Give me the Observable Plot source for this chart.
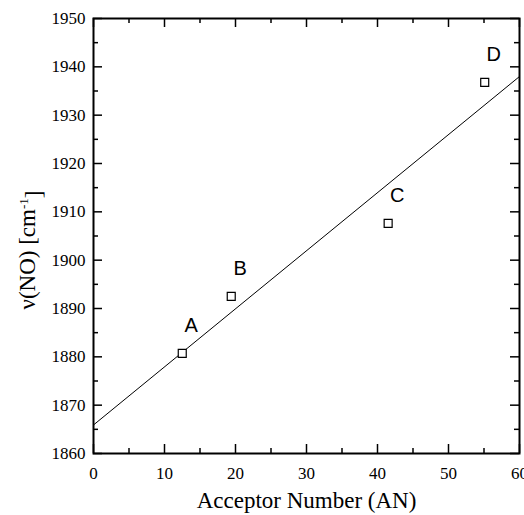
<!DOCTYPE html>
<html><head><meta charset="utf-8">
<script src="https://cdn.jsdelivr.net/npm/d3@7"></script>
<script src="https://cdn.jsdelivr.net/npm/@observablehq/plot@0.6"></script>
<style>
body{margin:0;background:#fff}
#chart svg text{font-family:"Liberation Serif","DejaVu Serif",serif !important;}
#chart svg text.lbl{font-family:"Liberation Sans",Arial,sans-serif !important;}
</style>
</head><body><div id="chart"></div>
<script>
// Data
const labels = ["A", "B", "C", "D"];
const acceptorNumber = [12.5, 19.4, 41.5, 55.1];
const nuNO = [1880.7, 1892.5, 1907.6, 1936.8];
const fitX = [0, 60];
const fitY = [1865.9, 1938.0];
const xMajor = [0, 10, 20, 30, 40, 50, 60];
const xMinor = [5, 15, 25, 35, 45, 55];
const yMajor = [1860, 1870, 1880, 1890, 1900, 1910, 1920, 1930, 1940, 1950];
const yMinor = [1865, 1875, 1885, 1895, 1905, 1915, 1925, 1935, 1945];
const xTitle = "Acceptor Number (AN)";
const yTitleMain = "ν(NO) [cm";
const yTitleSup = "-1";
const yTitleEnd = "]";

const points = labels.map((l, i) => ({label: l, an: acceptorNumber[i], nu: nuNO[i]}));
const fit = fitX.map((x, i) => ({x, y: fitY[i]}));

const W = 524, H = 515, mt = 18, mb = 62, ml = 93, mr = 5;
const ih = H - mt - mb, iw = W - ml - mr;
const MAJ = 9, MIN = 5;
const tk = {stroke: "black", strokeWidth: 1.5};

const chart = Plot.plot({
  width: W, height: H,
  marginTop: mt, marginBottom: mb, marginLeft: ml, marginRight: mr,
  style: {fontSize: "17px", color: "black", background: "white"},
  x: {domain: [0, 60]},
  y: {domain: [1860, 1950]},
  marks: [
    Plot.tickX(xMajor, {x: d => d, insetTop: ih - MAJ, ...tk}),
    Plot.tickX(xMinor, {x: d => d, insetTop: ih - MIN, ...tk}),
    Plot.tickX(xMajor, {x: d => d, insetBottom: ih - MAJ, ...tk}),
    Plot.tickX(xMinor, {x: d => d, insetBottom: ih - MIN, ...tk}),
    Plot.tickY(yMajor, {y: d => d, insetRight: iw - MAJ, ...tk}),
    Plot.tickY(yMinor, {y: d => d, insetRight: iw - MIN, ...tk}),
    Plot.tickY(yMajor, {y: d => d, insetLeft: iw - MAJ, ...tk}),
    Plot.tickY(yMinor, {y: d => d, insetLeft: iw - MIN, ...tk}),
    Plot.line(fit, {x: "x", y: "y", stroke: "black", strokeWidth: 1}),
    Plot.dot(points, {x: "an", y: "nu", symbol: "square", r: 4.5, stroke: "black", strokeWidth: 1.2, fill: "white"}),
    Plot.text(points, {x: "an", y: "nu", text: "label", dx: 9, dy: -28, fontSize: 20, fill: "black"}),
    Plot.frame({stroke: "black", strokeWidth: 2}),
    Plot.axisX({ticks: xMajor, tickSize: 0, tickPadding: 13, tickFormat: d => String(d), label: null, fontSize: 17}),
    Plot.axisY({ticks: yMajor, tickSize: 0, tickPadding: 8, tickFormat: d => String(d), label: null, fontSize: 17}),
    Plot.text([xTitle], {text: d => d, frameAnchor: "bottom", dy: 54, fontSize: 23, fill: "black"})
  ]
});

const sv = d3.select(chart);
sv.selectAll("text").each(function() {
  if (labels.includes(this.textContent)) this.classList.add("lbl");
});

// rotated y-axis title with superscript
const yt = sv.append("text")
  .attr("transform", "translate(35,250) rotate(-90)")
  .attr("text-anchor", "middle")
  .attr("font-size", 23)
  .attr("fill", "black");
yt.append("tspan").text(yTitleMain);
yt.append("tspan").attr("dy", "-0.55em").attr("font-size", "13px").text(yTitleSup);
yt.append("tspan").attr("dy", "0.55em").text(yTitleEnd);

document.getElementById("chart").append(chart);
</script>
</body></html>
